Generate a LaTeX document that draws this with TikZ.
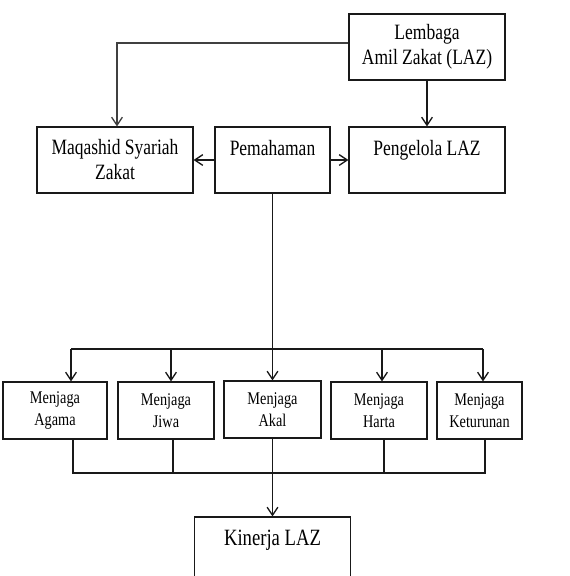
\documentclass[tikz,border=0pt]{standalone}
\usepackage{fontspec}
\setmainfont{Liberation Serif}[FakeStretch=0.8]
\usepackage{tikz}
\usetikzlibrary{arrows.meta,positioning,calc}
\newcommand{\lazbig}{\fontsize{16.4}{18.75}\selectfont}
\newcommand{\lazsmall}{\fontsize{13.4}{16.5}\selectfont}

\begin{document}
\begin{tikzpicture}[x=0.75pt,y=-0.75pt,
			bigbox/.style={draw=black!90,line width=0.9pt,align=center,inner sep=0pt,font=\lazbig,minimum width=117pt,minimum height=49.5pt},
			smallbox/.style={draw=black!90,line width=0.9pt,align=center,inner sep=0pt,font=\lazsmall,minimum height=42.75pt},
			arr/.style={draw=black!90,line width=0.9pt,-{Straight Barb[length=6pt,width=8pt,line width=1pt]}},
			ln/.style={draw=black!90,line width=0.9pt}]
		\useasboundingbox (0,0) rectangle (570,576);
		% top row
		\path 	(427,47) 	node 	(laz) [bigbox] {Lembaga\\Amil Zakat (LAZ)}
		        (115,160) 	node 	(maq) [bigbox] {Maqashid Syariah\\Zakat}
		        (272.5,160) node 	(pem) [bigbox, minimum width=86.25pt] {Pemahaman\\ \mbox{}}
		        (427,160) 	node 	(pen) [bigbox] {Pengelola LAZ\\ \mbox{}};
		% five boxes
		\path 	(55,410.5) 	node 	(aga) [smallbox, minimum width=78pt] {Menjaga\\Agama}
		        (166,410.5) node 	(jiw) [smallbox, minimum width=72pt] {Menjaga\\Jiwa}
		        (272.5,409.5) node 	(aka) [smallbox, minimum width=72.75pt] {Menjaga\\Akal}
		        (379,410.5) node 	(har) [smallbox, minimum width=72pt] {Menjaga\\Harta}
		        (479.5,410.5) node 	(ket) [smallbox, minimum width=63.75pt] {Menjaga\\Keturunan};
		\path 	(272.5,550) node 	(kin) [bigbox, font=\fontsize{17.5}{18.75}\selectfont] {Kinerja LAZ\\ \mbox{}};
		% bus points
		\coordinate (t1) at (71,349);  \coordinate (t2) at (171,349);
		\coordinate (t3) at (272.5,349); \coordinate (t4) at (382,349);
		\coordinate (t5) at (483,349);
		\coordinate (b1) at (73,473);  \coordinate (b2) at (173,473);
		\coordinate (b3) at (272.5,473); \coordinate (b4) at (384,473);
		\coordinate (b5) at (485,473);
		% connectors
		\draw [arr, draw=black!75] ([yshift=3pt]laz.west) -| ([xshift=1.5pt]maq.north);
		\draw [arr] (laz.south) -- (pen.north);
		\draw [arr] (pem.west) -- (maq.east);
		\draw [arr] (pem.east) -- (pen.west);
		\draw [ln] (pem.south) -- (t3);
		\draw [ln] (t1) -- (t5);
		\draw [arr] (t1) -- (t1 |- aga.north);
		\draw [arr] (t2) -- (t2 |- jiw.north);
		\draw [arr] (t3) -- (t3 |- aka.north);
		\draw [arr] (t4) -- (t4 |- har.north);
		\draw [arr] (t5) -- (t5 |- ket.north);
		\draw [ln] (b1 |- aga.south) -- (b1) -- (b5) -- (b5 |- ket.south);
		\draw [ln] (b2 |- jiw.south) -- (b2);
		\draw [ln] (b4 |- har.south) -- (b4);
		\draw [arr] (aka.south) -- (kin.north);
	\end{tikzpicture}
\end{document}
